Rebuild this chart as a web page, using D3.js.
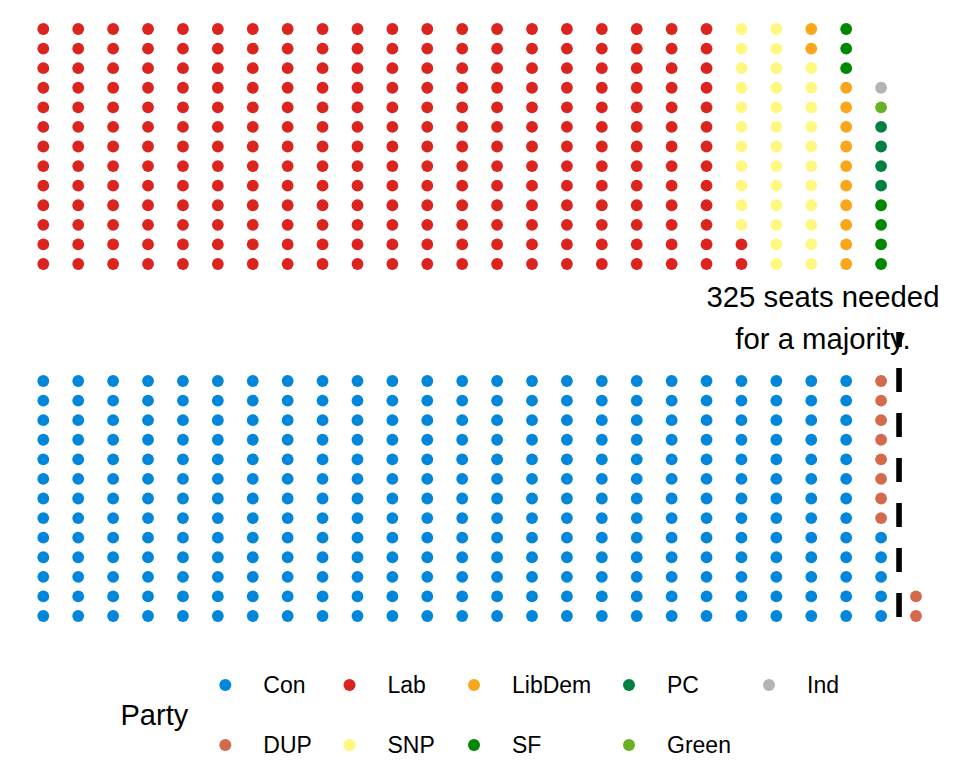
<!DOCTYPE html>
<html>
<head>
<meta charset="utf-8">
<script src="https://cdn.jsdelivr.net/npm/d3@7"></script>
<style>
  html, body { margin: 0; padding: 0; background: #fff; }
  svg { display: block; font-family: "Liberation Sans", Arial, sans-serif; }
</style>
</head>
<body>
<svg id="chart" width="960" height="768"></svg>
<script>
// ---- Data ----
const topParties = ["Lab", "SNP", "LibDem", "SF", "PC", "Green", "Ind"];
const topSeats   = [262, 35, 12, 7, 4, 1, 1];
const bottomParties = ["Con", "DUP"];
const bottomSeats   = [317, 10];

const legendRow1 = ["Con", "Lab", "LibDem", "PC", "Ind"];
const legendRow2 = ["DUP", "SNP", "SF", "Green"];

const partyNames  = ["Con", "Lab", "LibDem", "PC", "Ind", "DUP", "SNP", "SF", "Green"];
const partyColors = ["#0087DC", "#DC241F", "#FAA61A", "#008142", "#B3B3B3", "#D46A4C", "#FFF880", "#008800", "#6AB023"];

const majoritySeats = 325;
const annotationLines = [majoritySeats + " seats needed", "for a majority."];
const rowsPerColumn = 13;

// ---- Scales ----
const color = d3.scaleOrdinal().domain(partyNames).range(partyColors);
const x = d3.scaleLinear().domain([0, 25]).range([43.3, 916]);
const yTop = d3.scaleLinear().domain([0, 12]).range([29, 264]);
const yBottom = d3.scaleLinear().domain([0, 12]).range([381, 616]);

function expand(parties, seats) {
  const out = [];
  let k = 0;
  parties.forEach((p, i) => {
    for (let s = 0; s < seats[i]; s++) {
      out.push({ party: p, col: Math.floor(k / rowsPerColumn), row: rowsPerColumn - 1 - (k % rowsPerColumn) });
      k++;
    }
  });
  return out;
}

const svg = d3.select("#chart");

const topData = expand(topParties, topSeats);
const bottomData = expand(bottomParties, bottomSeats);

svg.append("g").selectAll("circle").data(topData).join("circle")
  .attr("cx", d => x(d.col)).attr("cy", d => yTop(d.row)).attr("r", 5.9)
  .attr("fill", d => color(d.party));

svg.append("g").selectAll("circle").data(bottomData).join("circle")
  .attr("cx", d => x(d.col)).attr("cy", d => yBottom(d.row)).attr("r", 5.9)
  .attr("fill", d => color(d.party));

// majority dashed line (between column 24 and 25)
const lineX = (x(24) + x(25)) / 2 + 0.5;
svg.append("line")
  .attr("x1", lineX).attr("x2", lineX)
  .attr("y1", yBottom(12) + 1).attr("y2", 332)
  .attr("stroke", "#000").attr("stroke-width", 5.6)
  .attr("stroke-dasharray", "24,21");

// annotation
svg.append("g").selectAll("text").data(annotationLines).join("text")
  .attr("x", 823).attr("y", (d, i) => 306.5 + i * 42)
  .attr("text-anchor", "middle").attr("font-size", 29.3).attr("fill", "#000")
  .text(d => d);

// ---- Legend ----
const legendX = [225.3, 349.5, 474, 629, 769];
const legendRowsY = [685, 745];
const legend = svg.append("g");
legend.append("text").attr("x", 120.5).attr("y", 725).attr("font-size", 29).attr("fill", "#000").text("Party");

[legendRow1, legendRow2].forEach((row, ri) => {
  const g = legend.append("g");
  g.selectAll("circle").data(row).join("circle")
    .attr("cx", (d, i) => legendX[i]).attr("cy", legendRowsY[ri]).attr("r", 6)
    .attr("fill", d => color(d));
  g.selectAll("text").data(row).join("text")
    .attr("x", (d, i) => legendX[i] + 38).attr("y", legendRowsY[ri] + 7.8)
    .attr("font-size", 23).attr("fill", "#000")
    .text(d => d);
});
</script>
</body>
</html>
